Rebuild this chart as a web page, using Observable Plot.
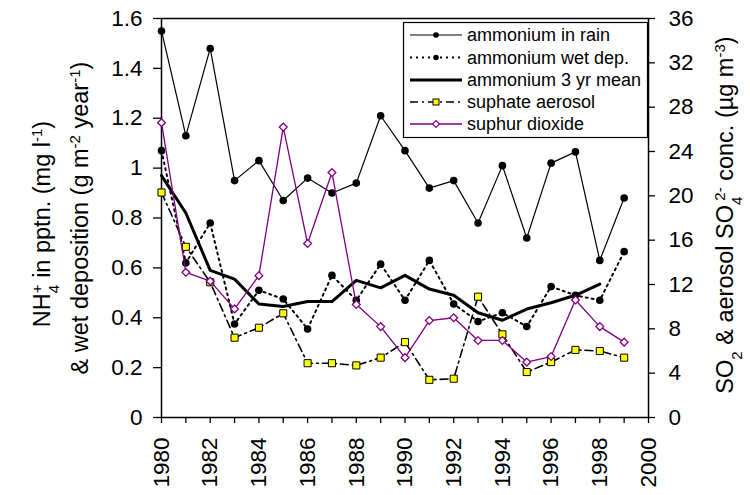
<!DOCTYPE html>
<html><head><meta charset="utf-8">
<script src="https://cdn.jsdelivr.net/npm/d3@7"></script>
<script src="https://cdn.jsdelivr.net/npm/@observablehq/plot@0.6"></script>
<style>body{margin:0;background:#fff} svg{display:block}</style>
</head><body><div id="chart"></div>
<script>
const years = [1980,1981,1982,1983,1984,1985,1986,1987,1988,1989,1990,1991,1992,1993,1994,1995,1996,1997,1998,1999];
const ammoniumRain = [1.55,1.13,1.48,0.95,1.03,0.87,0.96,0.90,0.94,1.21,1.07,0.92,0.95,0.78,1.01,0.72,1.02,1.065,0.63,0.88];
const ammoniumWetDep = [1.07,0.62,0.78,0.375,0.51,0.475,0.355,0.57,0.47,0.615,0.47,0.63,0.455,0.385,0.42,0.365,0.525,0.49,0.47,0.665];
const meanYears = [1980,1981,1982,1983,1984,1985,1986,1987,1988,1989,1990,1991,1992,1993,1994,1995,1996,1997,1998];
const ammonium3yrMean = [0.97,0.82,0.59,0.555,0.455,0.445,0.465,0.465,0.55,0.52,0.57,0.515,0.49,0.42,0.39,0.435,0.46,0.49,0.535];
const sulphateAerosol = [20.3,15.4,12.2,7.2,8.1,9.4,4.9,4.9,4.7,5.4,6.8,3.4,3.5,10.9,7.5,4.1,5.0,6.1,6.0,5.4];
const sulphurDioxide = [26.6,13.1,12.3,9.8,12.8,26.2,15.7,22.1,10.2,8.2,5.4,8.75,9.0,6.95,6.95,5.0,5.5,10.6,8.2,6.8];

const leftTicks = [0,0.2,0.4,0.6,0.8,1,1.2,1.4,1.6];
const leftTickLabels = ["0","0.2","0.4","0.6","0.8","1","1.2","1.4","1.6"];
const rightTicks = [0,4,8,12,16,20,24,28,32,36];
const xTicks = [1980,1981,1982,1983,1984,1985,1986,1987,1988,1989,1990,1991,1992,1993,1994,1995,1996,1997,1998,1999,2000];
const xTickLabels = [1980,1982,1984,1986,1988,1990,1992,1994,1996,1998,2000];
const seriesNames = ["ammonium in rain","ammonium wet dep.","ammonium 3 yr mean","suphate aerosol","suphur dioxide"];

const K = 36 / 1.6; // right axis units per left axis unit
const purple = "#800080";

const rainData = years.map((year, i) => ({year, v: ammoniumRain[i]}));
const wetData = years.map((year, i) => ({year, v: ammoniumWetDep[i]}));
const meanData = meanYears.map((year, i) => ({year, v: ammonium3yrMean[i]}));
const aerosolData = years.map((year, i) => ({year, v: sulphateAerosol[i]}));
const so2Data = years.map((year, i) => ({year, v: sulphurDioxide[i]}));
const yR = d => d.v / K;

const font = "'Liberation Sans', Arial, sans-serif";
const tickFont = 22.5;

const chart = Plot.plot({
  width: 750, height: 495,
  marginLeft: 161, marginRight: 102, marginTop: 18, marginBottom: 78,
  style: {fontFamily: font, fontSize: "22px", color: "black", background: "white"},
  x: {domain: [1980, 2000]},
  y: {domain: [0, 1.6]},
  marks: [
    Plot.frame({stroke: "black", strokeWidth: 1.5}),
    Plot.axisY({anchor: "left", ticks: leftTicks, tickSize: 8, tickPadding: 11, fontSize: tickFont,
      tickFormat: d => leftTickLabels[leftTicks.indexOf(d)], label: null, strokeWidth: 1.3}),
    Plot.axisY({anchor: "right", ticks: rightTicks.map(v => v / K), tickSize: 6, tickPadding: 14, fontSize: tickFont,
      tickFormat: d => String(Math.round(d * K)), label: null, strokeWidth: 1.3}),
    Plot.axisX({anchor: "bottom", ticks: xTicks, tickSize: 6, tickPadding: 14, tickRotate: -90, fontSize: tickFont,
      tickFormat: d => xTickLabels.includes(d) ? String(d) : "", label: null, strokeWidth: 1.3}),
    // ammonium in rain
    Plot.line(rainData, {x: "year", y: "v", stroke: "black", strokeWidth: 1.2}),
    Plot.dot(rainData, {x: "year", y: "v", r: 3.8, fill: "black"}),
    // ammonium wet dep
    Plot.line(wetData, {x: "year", y: "v", stroke: "black", strokeWidth: 2, strokeDasharray: "2,4"}),
    Plot.dot(wetData, {x: "year", y: "v", r: 3.8, fill: "black"}),
    // 3 yr mean
    Plot.line(meanData, {x: "year", y: "v", stroke: "black", strokeWidth: 3}),
    // sulphate aerosol
    Plot.line(aerosolData, {x: "year", y: yR, stroke: "black", strokeWidth: 1.6, strokeDasharray: "8,4,2,4"}),
    Plot.dot(aerosolData, {x: "year", y: yR, symbol: "square", r: 4, fill: "#ffff00", stroke: "black", strokeWidth: 1}),
    // sulphur dioxide
    Plot.line(so2Data, {x: "year", y: yR, stroke: purple, strokeWidth: 1.3}),
    Plot.dot(so2Data, {x: "year", y: yR, symbol: "diamond2", r: 3.5, fill: "white", stroke: purple, strokeWidth: 1.3})
  ]
});
document.getElementById("chart").appendChild(chart);

const svg = d3.select(chart);

// parts: [text, kind, stackBack] ; stackBack shifts the piece back over the previous sub/sup
function addTitle(x, y, parts) {
  const t = svg.append("text")
    .attr("transform", `translate(${x},${y}) rotate(-90)`)
    .attr("text-anchor", "middle")
    .attr("font-family", font)
    .attr("font-size", 23.5)
    .attr("fill", "black");
  parts.forEach(([s, kind, back]) => {
    const ts = t.append("tspan").text(s);
    if (kind === "sup") ts.attr("baseline-shift", "super").attr("font-size", 15);
    if (kind === "sub") ts.attr("baseline-shift", "sub").attr("font-size", 15);
    if (back) ts.attr("dx", -back);
  });
}
addTitle(50, 224, [["NH"], ["4", "sub"], ["+", "sup", 8.3], [" in pptn. (mg l"], ["-1", "sup"], [")"]]);
addTitle(88, 218, [["& wet deposition (g m"], ["-2", "sup"], [" year"], ["-1", "sup"], [")"]]);
addTitle(733, 215, [["SO"], ["2", "sub"], [" & aerosol SO"], ["4", "sub"], ["2-", "sup", 4], [" conc. ("], ["\u00b5g m"], ["-3", "sup"], [")"]]);

// legend
const lg = svg.append("g");
lg.append("rect").attr("x", 403.5).attr("y", 22.5).attr("width", 244).attr("height", 115)
  .attr("fill", "white").attr("stroke", "black").attr("stroke-width", 1.2);
const rowY = [35, 57.5, 80, 102, 124];
const styles = [
  {stroke: "black", w: 1.2, dash: null, marker: "circle"},
  {stroke: "black", w: 2, dash: "2,4", marker: "circle"},
  {stroke: "black", w: 3, dash: null, marker: null},
  {stroke: "black", w: 1.6, dash: "8,4,2,4", marker: "square"},
  {stroke: purple, w: 1.3, dash: null, marker: "diamond"}
];
seriesNames.forEach((name, i) => {
  const y = rowY[i], s = styles[i];
  const ln = lg.append("line").attr("x1", 410).attr("x2", 462).attr("y1", y).attr("y2", y)
    .attr("stroke", s.stroke).attr("stroke-width", s.w);
  if (s.dash) ln.attr("stroke-dasharray", s.dash);
  if (s.marker === "circle") lg.append("circle").attr("cx", 436).attr("cy", y).attr("r", 2.8).attr("fill", "black");
  if (s.marker === "square") lg.append("rect").attr("x", 433).attr("y", y - 3).attr("width", 6).attr("height", 6)
    .attr("fill", "#ffff00").attr("stroke", "black").attr("stroke-width", 1);
  if (s.marker === "diamond") lg.append("path").attr("d", `M436,${y-3.5}L439.5,${y}L436,${y+3.5}L432.5,${y}Z`)
    .attr("fill", "white").attr("stroke", purple).attr("stroke-width", 1.2);
  lg.append("text").attr("x", 467).attr("y", y).attr("dy", "0.35em").attr("text-anchor", "start")
    .attr("font-family", font).attr("font-size", 18).attr("fill", "black").text(name);
});
</script>
</body></html>
